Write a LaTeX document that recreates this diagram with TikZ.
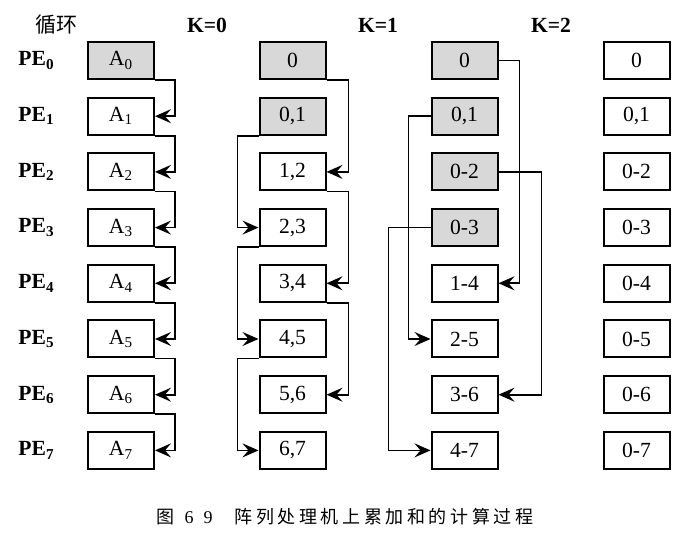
\documentclass[tikz,border=0pt]{standalone}
\usepackage{fontspec}
\setmainfont{Liberation Serif}
\newfontfamily\cjk{Noto Sans CJK SC}
\newfontfamily\cjkcap[LetterSpace=20]{Noto Sans CJK SC}
\usetikzlibrary{calc}
\usetikzlibrary{arrows.meta}
\definecolor{cellgray}{RGB}{216,216,216}

\begin{document}
\begin{tikzpicture}[x=0.5pt, y=-0.5pt,
  block/.style = {rectangle, draw, line width=1pt, minimum height=18.5pt, minimum width=33pt, inner sep=1pt, font=\fontsize{10.8}{12}\selectfont},
  done/.style = {block, fill=cellgray},
  link/.style = {line width=0.85pt, -{Stealth[length=8pt, width=7pt, inset=3pt]}},
  head/.style = {inner sep=0pt, font=\fontsize{10.8}{12}\selectfont\bfseries}
]
\useasboundingbox (0,0) rectangle (687,533);

% headings
\node (loop)[inner sep=0pt, font=\fontsize{10.5}{12}\selectfont] at (56,25) {\cjk 循环};
\node (kzero)[head] at (207,25) {K=0};
\node (kone)[head] at (378,25) {K=1};
\node (ktwo)[head] at (551,25) {K=2};

% row labels and first column
\foreach \i in {0,...,7}{
  \node (pe\i)[head, anchor=west] at (18,{60.5+55.7*\i}) {PE\textsubscript{\i}};
  \node (a\i)[block] at (121,{60.5+55.7*\i}) {A\textsubscript{\i}};
}
\node[done] at (a0) {A\textsubscript{0}};

% K=0 column
\node (s0)[done] at (292.5,60.5) {0};
\node (s1)[done] at (292.5,116.2) {0,1};
\node (s2)[block] at (292.5,171.9) {1,2};
\node (s3)[block] at (292.5,227.6) {2,3};
\node (s4)[block] at (292.5,283.3) {3,4};
\node (s5)[block] at (292.5,339) {4,5};
\node (s6)[block] at (292.5,394.7) {5,6};
\node (s7)[block] at (292.5,450.4) {6,7};

% K=1 column
\node (t0)[done] at (464.5,60.5) {0};
\node (t1)[done] at (464.5,116.2) {0,1};
\node (t2)[done] at (464.5,171.9) {0-2};
\node (t3)[done] at (464.5,227.6) {0-3};
\node (t4)[block] at (464.5,283.3) {1-4};
\node (t5)[block] at (464.5,339) {2-5};
\node (t6)[block] at (464.5,394.7) {3-6};
\node (t7)[block] at (464.5,450.4) {4-7};

% K=2 column
\node (u0)[block] at (636.5,60.5) {0};
\node (u1)[block] at (636.5,116.2) {0,1};
\foreach \i in {2,...,7}{
  \node (u\i)[block] at (636.5,{60.5+55.7*\i}) {0-\i};
}

% shifts of the first step
\foreach \i [count=\j] in {0,...,6}{
  \draw[link] (a\i.south east) -- ++(20,0) |- (a\j.east);
}

% K=0
\draw[link] (s0.south east) -- ++(22,0) |- (s2.east);
\draw[link] (s2.south east) -- ++(22,0) |- (s4.east);
\draw[link] (s4.south east) -- ++(22,0) |- (s6.east);
\draw[link] (s1.south west) -- ++(-21,0) |- (s3.west);
\draw[link] (s3.south west) -- ++(-21,0) |- (s5.west);
\draw[link] (s5.south west) -- ++(-21,0) |- (s7.west);

% K=1
\draw[link] (t0.east) -- ++(21,0) |- (t4.east);
\draw[link] (t2.east) -- ++(43,0) |- (t6.east);
\draw[link] (t1.west) -- ++(-22,0) |- (t5.west);
\draw[link] (t3.west) -- ++(-42,0) |- (t7.west);

% caption
\node (caption)[font=\fontsize{9}{11}\selectfont] at (345,517) {{\cjkcap 图}\hspace{5pt}6\hspace{5pt}9\hspace{11pt}{\cjkcap 阵列处理机上累加和的计算过程}};

\end{tikzpicture}
\end{document}
